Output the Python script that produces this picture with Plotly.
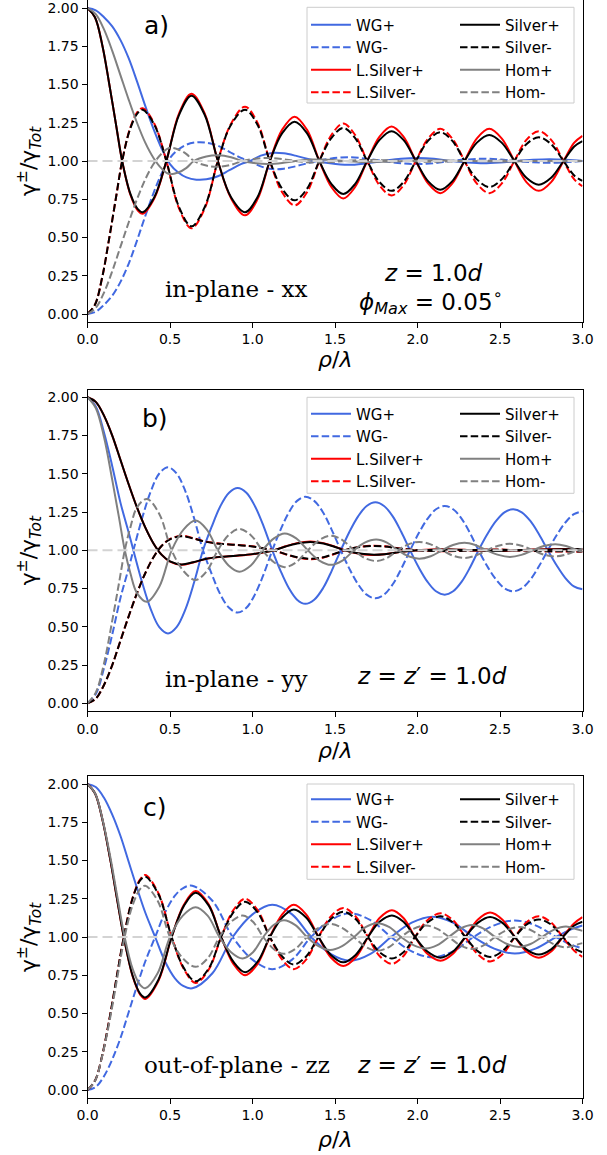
import plotly.graph_objects as go

# ---------------- data ----------------
x_tick_vals = [0.0, 0.5, 1.0, 1.5, 2.0, 2.5, 3.0]
x_tick_text = ["0.0", "0.5", "1.0", "1.5", "2.0", "2.5", "3.0"]
y_tick_vals = [0.0, 0.25, 0.5, 0.75, 1.0, 1.25, 1.5, 1.75, 2.0]
y_tick_text = ["0.00", "0.25", "0.50", "0.75", "1.00", "1.25", "1.50", "1.75", "2.00"]
reference_level = [1.0, 1.0]
reference_x = [0.0, 3.0]
series_names = ["WG+", "WG-", "L.Silver+", "L.Silver-", "Silver+", "Silver-", "Hom+", "Hom-"]

# ---- panel a) in-plane xx ----
a_wg_x = [0, 0.05, 0.10, 0.15, 0.20, 0.25, 0.30, 0.35, 0.40, 0.45, 0.50, 0.55, 0.60, 0.66, 0.72, 0.79, 0.86, 0.93, 0.985, 1.05,
          1.12, 1.19, 1.26, 1.33, 1.39, 1.47, 1.58, 1.69, 1.79, 1.90, 2.00, 2.10, 2.20, 2.30, 2.40, 2.50, 2.60, 2.70, 2.80, 2.90, 3.00]
a_wg_p = [2.00, 1.985, 1.94, 1.88, 1.79, 1.67, 1.52, 1.36, 1.21, 1.08, 0.98, 0.925, 0.893, 0.878, 0.88, 0.90, 0.94, 0.98, 1.00, 1.035,
          1.053, 1.05, 1.035, 1.015, 1.00, 0.985, 0.975, 0.985, 1.00, 1.015, 1.02, 1.015, 1.00, 0.99, 0.985, 0.99, 1.00, 1.008, 1.012, 1.008, 1.00]
a_wg_m = [0.00, 0.015, 0.06, 0.12, 0.21, 0.33, 0.48, 0.64, 0.79, 0.92, 1.02, 1.075, 1.107, 1.122, 1.12, 1.10, 1.06, 1.02, 1.00, 0.965,
          0.947, 0.95, 0.965, 0.985, 1.00, 1.015, 1.025, 1.015, 1.00, 0.985, 0.98, 0.985, 1.00, 1.01, 1.015, 1.01, 1.00, 0.992, 0.988, 0.992, 1.00]

a_ag_x = [0, 0.045, 0.09, 0.13, 0.175, 0.21, 0.26, 0.305, 0.335, 0.405, 0.478, 0.555, 0.63, 0.71, 0.79, 0.87, 0.955, 1.03, 1.105,
          1.18, 1.255, 1.33, 1.405, 1.48, 1.55, 1.62, 1.695, 1.77, 1.843, 1.915, 1.99, 2.065, 2.138, 2.21, 2.285, 2.36, 2.435, 2.51, 2.587,
          2.66, 2.735, 2.81, 2.885, 2.95, 3.00]
a_ag_p = [2.00, 1.94, 1.755, 1.515, 1.224, 1.00, 0.785, 0.685, 0.665, 0.763, 1.00, 1.302, 1.427, 1.302, 1.00, 0.763, 0.665, 0.763, 1.00,
          1.182, 1.257, 1.182, 1.00, 0.847, 0.784, 0.847, 1.00, 1.138, 1.195, 1.138, 1.00, 0.867, 0.812, 0.867, 1.00, 1.12, 1.17, 1.12, 1.00,
          0.89, 0.845, 0.89, 1.00, 1.095, 1.13]
a_ag_m = [0.00, 0.06, 0.245, 0.485, 0.776, 1.00, 1.215, 1.315, 1.335, 1.237, 1.00, 0.698, 0.573, 0.698, 1.00, 1.237, 1.335, 1.237, 1.00,
          0.818, 0.743, 0.818, 1.00, 1.153, 1.216, 1.153, 1.00, 0.862, 0.805, 0.862, 1.00, 1.133, 1.188, 1.133, 1.00, 0.88, 0.83, 0.88, 1.00,
          1.11, 1.155, 1.11, 1.00, 0.905, 0.87]
a_lag_p = [2.00, 1.94, 1.755, 1.515, 1.224, 1.00, 0.78, 0.676, 0.655, 0.756, 1.00, 1.311, 1.44, 1.311, 1.00, 0.756, 0.645, 0.749, 1.00,
           1.205, 1.29, 1.205, 1.00, 0.827, 0.755, 0.827, 1.00, 1.159, 1.225, 1.159, 1.00, 0.852, 0.79, 0.852, 1.00, 1.148, 1.21, 1.148, 1.00,
           0.862, 0.805, 0.862, 1.00, 1.12, 1.165]
a_lag_m = [0.00, 0.06, 0.245, 0.485, 0.776, 1.00, 1.22, 1.324, 1.345, 1.244, 1.00, 0.689, 0.56, 0.689, 1.00, 1.244, 1.355, 1.251, 1.00,
           0.795, 0.71, 0.795, 1.00, 1.173, 1.245, 1.173, 1.00, 0.841, 0.775, 0.841, 1.00, 1.148, 1.21, 1.148, 1.00, 0.852, 0.79, 0.852, 1.00,
           1.138, 1.195, 1.138, 1.00, 0.88, 0.835]

a_hom_x = [0, 0.05, 0.10, 0.15, 0.20, 0.25, 0.30, 0.35, 0.40, 0.45, 0.495, 0.55, 0.60, 0.645, 0.72, 0.795, 0.87, 0.94, 1.02, 1.10,
           1.18, 1.26, 1.36, 1.46, 1.56, 1.68, 1.80, 1.92, 2.10, 2.30, 2.50, 2.70, 2.90, 3.00]
a_hom_p = [2.00, 1.96, 1.86, 1.72, 1.56, 1.40, 1.25, 1.12, 1.02, 0.95, 0.915, 0.925, 0.955, 1.00, 1.03, 1.038, 1.025, 1.00, 0.985, 0.98,
           0.987, 1.00, 1.01, 1.008, 1.00, 0.993, 0.995, 1.00, 1.005, 1.00, 0.997, 1.00, 1.002, 1.00]
a_hom_m = [0.00, 0.04, 0.14, 0.28, 0.44, 0.60, 0.75, 0.88, 0.98, 1.05, 1.085, 1.075, 1.045, 1.00, 0.97, 0.962, 0.975, 1.00, 1.015, 1.02,
           1.013, 1.00, 0.99, 0.992, 1.00, 1.007, 1.005, 1.00, 0.995, 1.00, 1.003, 1.00, 0.998, 1.00]

# ---- panel b) in-plane yy ----
b_wg_x = [0, 0.05, 0.10, 0.15, 0.20, 0.25, 0.278, 0.33, 0.383, 0.435, 0.488, 0.54, 0.594, 0.647, 0.70, 0.753, 0.805, 0.858, 0.91, 0.963,
          1.015, 1.068, 1.12, 1.17, 1.22, 1.27, 1.32, 1.374, 1.428, 1.48, 1.535, 1.587, 1.64, 1.692, 1.745, 1.797, 1.85, 1.902, 1.955, 2.007,
          2.06, 2.112, 2.165, 2.216, 2.268, 2.319, 2.37, 2.422, 2.475, 2.527, 2.58, 2.632, 2.685, 2.737, 2.79, 2.843, 2.895, 2.948, 3.00]
b_wg_p = [2.00, 1.94, 1.77, 1.55, 1.31, 1.115, 1.00, 0.794, 0.616, 0.498, 0.457, 0.498, 0.616, 0.794, 1.00, 1.155, 1.288, 1.376, 1.407, 1.376,
          1.288, 1.155, 1.00, 0.866, 0.753, 0.677, 0.65, 0.677, 0.753, 0.866, 1.00, 1.12, 1.222, 1.29, 1.314, 1.29, 1.222, 1.12, 1.00, 0.889,
          0.795, 0.732, 0.71, 0.732, 0.795, 0.889, 1.00, 1.103, 1.19, 1.248, 1.268, 1.248, 1.19, 1.103, 1.00, 0.902, 0.82, 0.764, 0.745]
b_wg_m = [0.00, 0.06, 0.23, 0.45, 0.69, 0.885, 1.00, 1.206, 1.384, 1.502, 1.543, 1.502, 1.384, 1.206, 1.00, 0.845, 0.712, 0.624, 0.593, 0.624,
          0.712, 0.845, 1.00, 1.134, 1.247, 1.323, 1.35, 1.323, 1.247, 1.134, 1.00, 0.88, 0.778, 0.71, 0.686, 0.71, 0.778, 0.88, 1.00, 1.111,
          1.205, 1.268, 1.29, 1.268, 1.205, 1.111, 1.00, 0.897, 0.81, 0.752, 0.732, 0.752, 0.81, 0.897, 1.00, 1.098, 1.18, 1.236, 1.255]

b_ag_x = [0, 0.05, 0.10, 0.15, 0.20, 0.25, 0.30, 0.35, 0.40, 0.45, 0.50, 0.57, 0.64, 0.72, 0.80, 0.90, 1.00, 1.07, 1.13, 1.20,
          1.27, 1.35, 1.43, 1.50, 1.56, 1.63, 1.72, 1.80, 1.90, 2.00, 2.10, 2.20, 2.30, 2.40, 2.50, 2.60, 2.70, 2.80, 2.90, 3.00]
b_ag_p = [2.00, 1.97, 1.88, 1.75, 1.59, 1.43, 1.28, 1.15, 1.045, 0.97, 0.928, 0.908, 0.922, 0.945, 0.957, 0.965, 0.975, 0.988, 1.00, 1.025,
          1.045, 1.055, 1.045, 1.022, 1.00, 0.982, 0.972, 0.975, 0.99, 1.00, 1.004, 1.005, 1.002, 0.997, 0.996, 1.00, 1.004, 1.006, 1.007, 1.008]
b_ag_m = [0.00, 0.03, 0.12, 0.25, 0.41, 0.57, 0.72, 0.85, 0.955, 1.03, 1.072, 1.092, 1.078, 1.055, 1.043, 1.035, 1.025, 1.012, 1.00, 0.975,
          0.955, 0.945, 0.955, 0.978, 1.00, 1.018, 1.028, 1.025, 1.01, 1.00, 0.996, 0.995, 0.998, 1.003, 1.004, 1.00, 0.996, 0.994, 0.993, 0.992]
b_lag_p = [2.00, 1.97, 1.88, 1.75, 1.59, 1.43, 1.28, 1.15, 1.045, 0.97, 0.926, 0.905, 0.92, 0.944, 0.956, 0.964, 0.974, 0.987, 1.00, 1.026,
           1.047, 1.058, 1.047, 1.023, 1.00, 0.981, 0.97, 0.974, 0.99, 1.00, 1.005, 1.006, 1.002, 0.996, 0.995, 1.00, 1.005, 1.007, 1.008, 1.009]
b_lag_m = [0.00, 0.03, 0.12, 0.25, 0.41, 0.57, 0.72, 0.85, 0.955, 1.03, 1.074, 1.095, 1.08, 1.056, 1.044, 1.036, 1.026, 1.013, 1.00, 0.974,
           0.953, 0.942, 0.953, 0.977, 1.00, 1.019, 1.03, 1.026, 1.01, 1.00, 0.995, 0.994, 0.998, 1.004, 1.005, 1.00, 0.995, 0.993, 0.992, 0.991]

b_hom_x = [0, 0.05, 0.10, 0.15, 0.19, 0.226, 0.26, 0.30, 0.36, 0.435, 0.51, 0.583, 0.655, 0.722, 0.79, 0.855, 0.92, 0.99, 1.06,
           1.13, 1.195, 1.265, 1.335, 1.405, 1.475, 1.545, 1.615, 1.68, 1.75, 1.815, 1.88, 1.945, 2.01, 2.08, 2.15, 2.215, 2.285, 2.35, 2.42,
           2.49, 2.56, 2.63, 2.70, 2.765, 2.835, 2.90, 2.97, 3.00]
b_hom_p = [2.00, 1.93, 1.74, 1.46, 1.22, 1.00, 0.85, 0.72, 0.664, 0.762, 1.00, 1.137, 1.194, 1.137, 1.00, 0.901, 0.86, 0.901, 1.00,
           1.078, 1.11, 1.078, 1.00, 0.933, 0.905, 0.933, 1.00, 1.05, 1.07, 1.05, 1.00, 0.961, 0.945, 0.961, 1.00, 1.035, 1.05, 1.035, 1.00,
           0.97, 0.957, 0.97, 1.00, 1.028, 1.04, 1.028, 1.00, 0.99]
b_hom_m = [0.00, 0.07, 0.26, 0.54, 0.78, 1.00, 1.15, 1.28, 1.336, 1.238, 1.00, 0.863, 0.806, 0.863, 1.00, 1.099, 1.14, 1.099, 1.00,
           0.922, 0.89, 0.922, 1.00, 1.067, 1.095, 1.067, 1.00, 0.95, 0.93, 0.95, 1.00, 1.039, 1.055, 1.039, 1.00, 0.965, 0.95, 0.965, 1.00,
           1.03, 1.043, 1.03, 1.00, 0.972, 0.96, 0.972, 1.00, 1.01]

# ---- panel c) out-of-plane zz ----
c_wg_x = [0, 0.05, 0.10, 0.15, 0.20, 0.25, 0.30, 0.35, 0.41, 0.47, 0.53, 0.58, 0.635, 0.757, 0.88, 1.00, 1.12, 1.24, 1.355, 1.473,
          1.59, 1.715, 1.84, 1.965, 2.09, 2.215, 2.34, 2.465, 2.59, 2.715, 2.84, 2.92, 3.00]
c_wg_p = [2.00, 1.98, 1.91, 1.80, 1.66, 1.49, 1.32, 1.16, 1.00, 0.84, 0.73, 0.68, 0.665, 0.763, 1.00, 1.148, 1.21, 1.148, 1.00, 0.89,
          0.845, 0.89, 1.00, 1.094, 1.133, 1.094, 1.00, 0.924, 0.892, 0.924, 1.00, 1.045, 1.075]
c_wg_m = [0.00, 0.02, 0.09, 0.20, 0.34, 0.51, 0.68, 0.84, 1.00, 1.16, 1.27, 1.32, 1.335, 1.237, 1.00, 0.852, 0.79, 0.852, 1.00, 1.11,
          1.155, 1.11, 1.00, 0.906, 0.867, 0.906, 1.00, 1.076, 1.108, 1.076, 1.00, 0.955, 0.925]

c_ag_x = [0, 0.046, 0.091, 0.137, 0.183, 0.22, 0.274, 0.32, 0.35, 0.43, 0.51, 0.585, 0.655, 0.735, 0.81, 0.885, 0.955, 1.03, 1.105,
          1.18, 1.25, 1.325, 1.40, 1.475, 1.55, 1.625, 1.70, 1.77, 1.845, 1.915, 1.985, 2.06, 2.14, 2.215, 2.29, 2.365, 2.44, 2.515, 2.59,
          2.66, 2.735, 2.81, 2.88, 2.95, 3.00]
c_ag_p = [2.00, 1.938, 1.765, 1.512, 1.224, 1.00, 0.745, 0.628, 0.605, 0.721, 1.00, 1.205, 1.29, 1.205, 1.00, 0.837, 0.77, 0.837, 1.00,
          1.127, 1.18, 1.127, 1.00, 0.883, 0.835, 0.883, 1.00, 1.099, 1.14, 1.099, 1.00, 0.905, 0.865, 0.905, 1.00, 1.092, 1.13, 1.092, 1.00,
          0.919, 0.885, 0.919, 1.00, 1.075, 1.10]
c_ag_m = [0.00, 0.062, 0.235, 0.488, 0.776, 1.00, 1.255, 1.372, 1.395, 1.279, 1.00, 0.795, 0.71, 0.795, 1.00, 1.163, 1.23, 1.163, 1.00,
          0.873, 0.82, 0.873, 1.00, 1.117, 1.165, 1.117, 1.00, 0.901, 0.86, 0.901, 1.00, 1.095, 1.135, 1.095, 1.00, 0.908, 0.87, 0.908, 1.00,
          1.081, 1.115, 1.081, 1.00, 0.925, 0.90]
c_lag_p = [2.00, 1.938, 1.765, 1.512, 1.224, 1.00, 0.742, 0.622, 0.595, 0.714, 1.00, 1.212, 1.30, 1.212, 1.00, 0.823, 0.75, 0.823, 1.00,
           1.148, 1.21, 1.148, 1.00, 0.866, 0.81, 0.866, 1.00, 1.124, 1.175, 1.124, 1.00, 0.89, 0.845, 0.89, 1.00, 1.113, 1.16, 1.113, 1.00,
           0.905, 0.865, 0.905, 1.00, 1.09, 1.13]
c_lag_m = [0.00, 0.062, 0.235, 0.488, 0.776, 1.00, 1.258, 1.378, 1.405, 1.286, 1.00, 0.788, 0.70, 0.788, 1.00, 1.177, 1.25, 1.177, 1.00,
           0.852, 0.79, 0.852, 1.00, 1.134, 1.19, 1.134, 1.00, 0.876, 0.825, 0.876, 1.00, 1.11, 1.155, 1.11, 1.00, 0.887, 0.84, 0.887, 1.00,
           1.095, 1.135, 1.095, 1.00, 0.91, 0.87]

c_hom_x = [0, 0.046, 0.091, 0.137, 0.183, 0.225, 0.274, 0.32, 0.35, 0.425, 0.50, 0.578, 0.655, 0.728, 0.80, 0.87, 0.94, 1.003, 1.065,
           1.128, 1.19, 1.26, 1.33, 1.40, 1.47, 1.543, 1.615, 1.685, 1.755, 1.83, 1.90, 1.975, 2.05, 2.12, 2.19, 2.26, 2.33, 2.40, 2.47,
           2.543, 2.615, 2.685, 2.755, 2.828, 2.90, 2.96, 3.00]
c_hom_p = [2.00, 1.94, 1.77, 1.53, 1.25, 1.00, 0.79, 0.685, 0.665, 0.763, 1.00, 1.14, 1.195, 1.14, 1.00, 0.901, 0.86, 0.901, 1.00,
           1.078, 1.11, 1.078, 1.00, 0.94, 0.915, 0.94, 1.00, 1.064, 1.09, 1.064, 1.00, 0.947, 0.925, 0.947, 1.00, 1.055, 1.078, 1.055, 1.00,
           0.954, 0.935, 0.954, 1.00, 1.048, 1.068, 1.052, 1.04]
c_hom_m = [0.00, 0.06, 0.23, 0.47, 0.75, 1.00, 1.21, 1.315, 1.335, 1.237, 1.00, 0.86, 0.805, 0.86, 1.00, 1.099, 1.14, 1.099, 1.00,
           0.922, 0.89, 0.922, 1.00, 1.06, 1.085, 1.06, 1.00, 0.936, 0.91, 0.936, 1.00, 1.053, 1.075, 1.053, 1.00, 0.945, 0.922, 0.945, 1.00,
           1.046, 1.065, 1.046, 1.00, 0.952, 0.932, 0.948, 0.96]

# ---------------- layout geometry (pixels) ----------------
W, H = 607, 1155
PLOT_L, PLOT_R = 87.5, 582.5
# (top, bottom) of each axes frame in px
PANEL_BOX = [(0.35, 321.65), (389.65, 710.95), (776.35, 1097.65)]
XTITLE_Y = [359, 750, 1139]

BLUE, RED, BLACK, GREY = "#4169e1", "#ff0000", "#000000", "#808080"
DASH = "7.5px,3.2px"
FONT = "DejaVu Sans"


def fx(px):
    return px / W


def fy(py):
    return 1 - py / H


panels = [
    dict(series=[(a_wg_x, a_wg_p, a_wg_m), (a_ag_x, a_lag_p, a_lag_m), (a_ag_x, a_ag_p, a_ag_m), (a_hom_x, a_hom_p, a_hom_m)],
         label="a)", label_xy=(156, 26),
         texts=[("in-plane - xx", 236, 289, "DejaVu Serif"),
                ("<i>z</i> = 1.0<i>d</i>", 433, 273, FONT),
                ("<i>ϕ</i><sub><i>Max</i></sub> = 0.05<sup>∘</sup>", 431, 302, FONT)],
         legend_box=(307, 7.3, 574, 103.0), first_row=22.5),
    dict(series=[(b_wg_x, b_wg_p, b_wg_m), (b_ag_x, b_lag_p, b_lag_m), (b_ag_x, b_ag_p, b_ag_m), (b_hom_x, b_hom_p, b_hom_m)],
         label="b)", label_xy=(155, 418),
         texts=[("in-plane - yy", 236, 679, "DejaVu Serif"),
                ("<i>z</i> = <i>z</i>′ = 1.0<i>d</i>", 432, 676, FONT)],
         legend_box=(307, 397.3, 574, 493.3), first_row=411.5),
    dict(series=[(c_wg_x, c_wg_p, c_wg_m), (c_ag_x, c_lag_p, c_lag_m), (c_ag_x, c_ag_p, c_ag_m), (c_hom_x, c_hom_p, c_hom_m)],
         label="c)", label_xy=(155, 807),
         texts=[("out-of-plane - zz", 237, 1065, "DejaVu Serif"),
                ("<i>z</i> = <i>z</i>′ = 1.0<i>d</i>", 432, 1065, FONT)],
         legend_box=(307, 784.0, 574, 879.3), first_row=797.0),
]

colors = [BLUE, RED, BLACK, GREY]

fig = go.Figure()
annotations = []
shapes = []
layout_extra = {}


def note(text, x, y, size, family=FONT, angle=0):
    return dict(text=text, x=fx(x), y=fy(y), xref="paper", yref="paper", showarrow=False,
                xanchor="center", yanchor="middle", textangle=angle,
                font=dict(size=size, family=family, color="black"))


for i, p in enumerate(panels):
    suffix = "" if i == 0 else str(i + 1)
    xref, yref = "x" + suffix, "y" + suffix
    leg1 = "legend" if i == 0 else f"legend{2 * i + 1}"
    leg2 = f"legend{2 * i + 2}"
    for k, (xs, yp, ym) in enumerate(p["series"]):
        leg = leg1 if k < 2 else leg2
        for j, (ys, dash) in enumerate([(yp, "solid"), (ym, DASH)]):
            fig.add_trace(go.Scatter(
                x=xs, y=ys, mode="lines", name=series_names[2 * k + j],
                line=dict(color=colors[k], width=2, dash=dash, shape="spline", smoothing=1.0),
                xaxis=xref, yaxis=yref, legend=leg, hoverinfo="skip"))
    # horizontal reference line at gamma/gamma_tot = 1
    fig.add_trace(go.Scatter(x=reference_x, y=reference_level, mode="lines", showlegend=False,
                             line=dict(color="#d3d3d3", width=2, dash="10px,5px"),
                             xaxis=xref, yaxis=yref, hoverinfo="skip"))

    top, bottom = PANEL_BOX[i]
    common = dict(showline=True, linecolor="black", linewidth=1, mirror=True,
                  ticks="outside", ticklen=5, tickwidth=1, tickcolor="black",
                  showgrid=False, zeroline=False, automargin=False, ticklabeloverflow="allow",
                  tickfont=dict(size=14, family=FONT, color="black"))
    layout_extra["xaxis" + suffix] = dict(
        domain=[fx(PLOT_L), fx(PLOT_R)], range=[0, 3], anchor=yref,
        tickmode="array", tickvals=x_tick_vals, ticktext=x_tick_text, **common)
    layout_extra["yaxis" + suffix] = dict(
        domain=[fy(bottom), fy(top)], range=[-0.05, 2.05], anchor=xref,
        tickmode="array", tickvals=y_tick_vals, ticktext=y_tick_text, **common)

    # legend frame
    bx0, by0, bx1, by1 = p["legend_box"]
    shapes.append(dict(type="rect", xref="paper", yref="paper",
                       x0=fx(bx0), x1=fx(bx1), y0=fy(by1), y1=fy(by0),
                       fillcolor="rgba(255,255,255,0.8)", line=dict(color="#cccccc", width=1), layer="above"))
    for n, lx in enumerate([bx0 - 1, bx0 + 148]):
        name = leg1 if n == 0 else leg2
        layout_extra[name] = dict(
            x=fx(lx), y=fy(p["first_row"] - 14), xanchor="left", yanchor="top",
            bgcolor="rgba(0,0,0,0)", borderwidth=0, orientation="v", itemwidth=40,
            font=dict(size=15, family=FONT, color="black"), tracegroupgap=0)

    # axis titles
    annotations.append(note("γ<sup>±</sup>/γ<sub><i>Tot</i></sub>", 29, (top + bottom) / 2, 22, angle=-90))
    annotations.append(note("<i>ρ</i>/<i>λ</i>", (PLOT_L + PLOT_R) / 2, XTITLE_Y[i], 22))
    # panel label
    annotations.append(note(p["label"], p["label_xy"][0], p["label_xy"][1], 25))
    for txt, tx, ty, fam in p["texts"]:
        annotations.append(note(txt, tx, ty, 23, family=fam))

fig.update_layout(
    width=W, height=H, autosize=False,
    margin=dict(l=0, r=0, t=0, b=0, pad=0, autoexpand=False),
    paper_bgcolor="white", plot_bgcolor="white",
    font=dict(family=FONT, color="black"),
    annotations=annotations, shapes=shapes,
    **layout_extra)

fig.write_html("out.html")
